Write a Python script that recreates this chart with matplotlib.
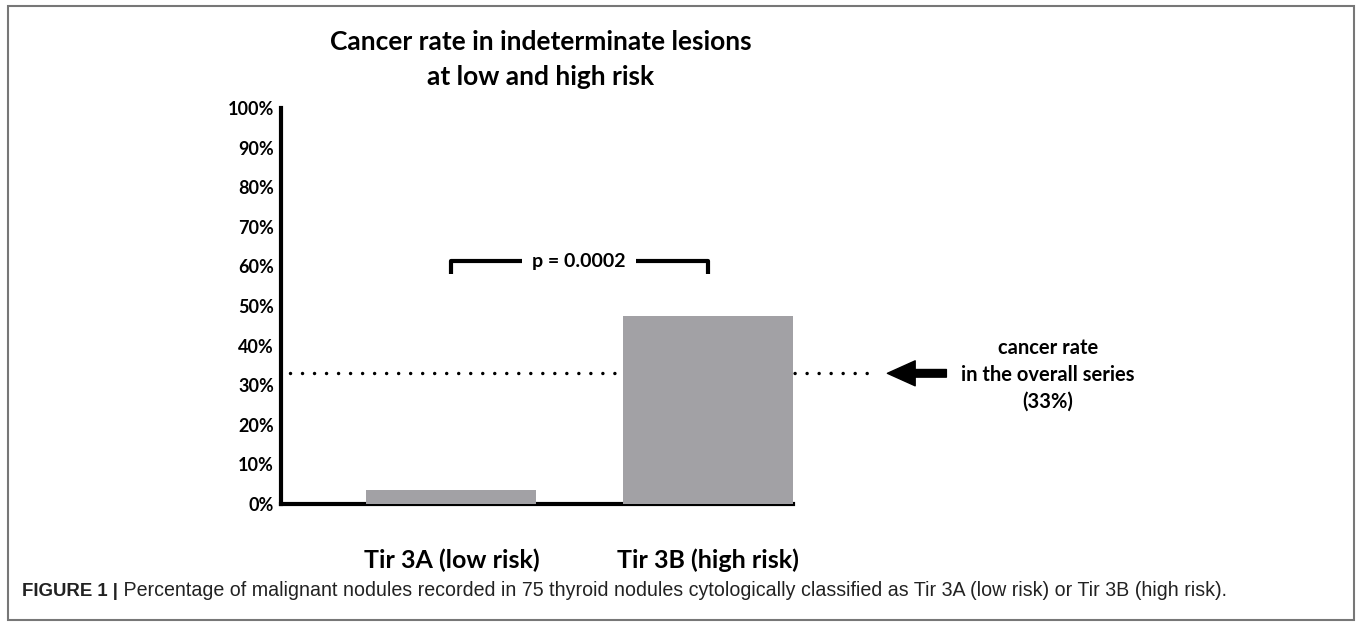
import matplotlib
matplotlib.use('Agg')
import matplotlib.pyplot as plt
from matplotlib.patches import Rectangle

# data
categories = ['Tir 3A (low risk)', 'Tir 3B (high risk)']
cancer_rates = [3.5, 47.5]
overall_rate = 33
p_label = 'p = 0.0002'
y_ticks = [0, 10, 20, 30, 40, 50, 60, 70, 80, 90, 100]
y_tick_labels = [f'{t}%' for t in y_ticks]

title_lines = ['Cancer rate in indeterminate lesions', 'at low and high risk']
note_lines = ['cancer rate', 'in the overall series', '(33%)']
caption_head = 'FIGURE 1 |'
caption_body = (' Percentage of malignant nodules recorded in 75 thyroid nodules '
                'cytologically classified as Tir 3A (low risk) or Tir 3B (high risk).')

W, H = 1357, 625
bold_font = 'Lato'
bar_color = '#a2a1a5'

fig = plt.figure(figsize=(W / 100, H / 100), dpi=100)

# axes placed in pixel terms: y axis at x=281, 0% at y=504, 100% at y=108
ax = fig.add_axes([281 / W, (H - 504) / H, (793 - 281) / W, (504 - 108) / H])
bar_width = 0.664
x = list(range(len(categories)))
ax.bar(x, cancer_rates, width=bar_width, color=bar_color, zorder=3)
ax.set_xlim(-bar_width, 1 + bar_width / 2)
ax.set_ylim(0, 100)

# dotted line for the overall rate, running past the axes on the right
ax.plot([-0.63, 1.66], [overall_rate, overall_rate], color='black', lw=2.5,
        linestyle=(0, (0.01, 3.45)), dash_capstyle='round', zorder=2, clip_on=False)

# arrow pointing at the dotted line
ax.annotate('', xy=(1.70, overall_rate), xytext=(1.93, overall_rate),
            arrowprops=dict(arrowstyle='simple,head_length=2.0,head_width=1.8,tail_width=0.55',
                            mutation_scale=10, color='black', shrinkA=0, shrinkB=0),
            annotation_clip=False)

# significance bracket
br_top, br_bot = 61.3, 58.0
ax.plot([0, 0, 0.277], [br_bot, br_top, br_top], color='black', lw=3, solid_capstyle='butt')
ax.plot([0.719, 1, 1], [br_top, br_top, br_bot], color='black', lw=3, solid_capstyle='butt')
ax.text(0.497, br_top, p_label, ha='center', va='center', fontsize=14,
        fontweight='bold', family=bold_font)

# spines
for side in ['top', 'right']:
    ax.spines[side].set_visible(False)
ax.spines['left'].set_linewidth(3)
ax.spines['bottom'].set_linewidth(3)
ax.spines['left'].set_bounds(0, 100)
ax.spines['bottom'].set_bounds(-bar_width, 1 + bar_width / 2)

ax.set_yticks(y_ticks)
ax.set_yticklabels(y_tick_labels)
ax.set_xticks(x)
ax.set_xticklabels(categories)
ax.tick_params(axis='y', length=0, pad=5, labelsize=13)
ax.tick_params(axis='x', length=0, pad=32, labelsize=18)
for lab in ax.get_yticklabels() + ax.get_xticklabels():
    lab.set_fontweight('bold')
    lab.set_family(bold_font)

# title
fig.text(541 / W, 1 - 42 / H, title_lines[0], ha='center', va='center',
         fontsize=19, fontweight='bold', family=bold_font)
fig.text(541 / W, 1 - 77 / H, title_lines[1], ha='center', va='center',
         fontsize=19, fontweight='bold', family=bold_font)

# note on the right
for i, line in enumerate(note_lines):
    fig.text(1048 / W, 1 - (348 + 27 * i) / H, line, ha='center', va='center',
             fontsize=14.5, fontweight='bold', family=bold_font)

# caption
head = fig.text(22 / W, 1 - 591 / H, caption_head, ha='left', va='center',
                fontsize=13.4, fontweight='bold', family='Liberation Sans', color='#222222')
fig.canvas.draw()
bb = head.get_window_extent()
fig.text(bb.x1 / W, 1 - 591 / H, caption_body, ha='left', va='center',
         fontsize=14.15, family='Liberation Sans', color='#222222')

# outer frame
fig.patches.append(Rectangle((8 / W, 1 - 620 / H), (1354 - 8) / W, (620 - 6) / H,
                             transform=fig.transFigure, fill=False,
                             edgecolor='#777777', lw=1.5))

fig.savefig('out.png', dpi=100, facecolor='white')
